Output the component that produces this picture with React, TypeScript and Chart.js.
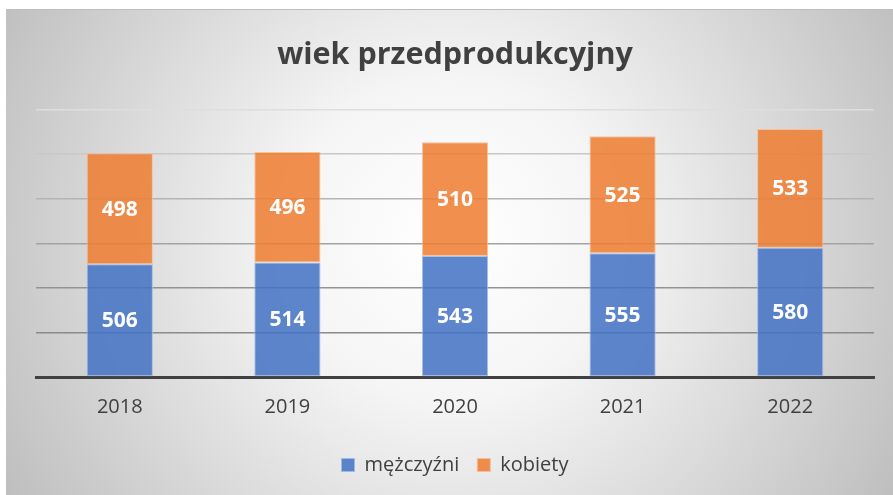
import React, { useEffect, useRef } from "react";
import { Chart, registerables } from "chart.js";

Chart.register(...registerables);

const categories = ["2018", "2019", "2020", "2021", "2022"];
const men = [506, 514, 543, 555, 580];
const women = [498, 496, 510, 525, 533];
const seriesNames = ["mężczyźni", "kobiety"];
const titleText = "wiek przedprodukcyjny";

const gridColors: Record<number, string> = {
  0: "rgba(0,0,0,0)",
  200: "#8a8a8a",
  400: "#939393",
  600: "#a3a3a3",
  800: "#b4b4b4",
  1000: "#c8c8c8",
  1200: "#dedede",
};

const bgPlugin = {
  id: "bgGradient",
  beforeDraw(chart: any) {
    const { ctx, width, height } = chart;
    ctx.save();
    ctx.fillStyle = "#ffffff";
    ctx.fillRect(0, 0, width, height);
    const g = ctx.createRadialGradient(450, 240, 0, 450, 240, 540);
    g.addColorStop(0, "#ffffff");
    g.addColorStop(0.3, "#f5f5f5");
    g.addColorStop(1, "#bababa");
    ctx.fillStyle = g;
    ctx.fillRect(6, 9, width - 6, height - 9);
    ctx.fillStyle = "#bdbdbd";
    ctx.fillRect(6, 9, width - 6, 1);
    ctx.restore();
  },
};

const labelPlugin = {
  id: "segLabels",
  afterDatasetsDraw(chart: any) {
    const { ctx } = chart;
    ctx.save();
    ctx.fillStyle = "#ffffff";
    ctx.font = "bold 21px 'Open Sans'";
    ctx.textAlign = "center";
    ctx.textBaseline = "middle";
    chart.data.datasets.forEach((ds: any, i: number) => {
      const meta = chart.getDatasetMeta(i);
      meta.data.forEach((el: any, j: number) => {
        const y = (el.y + el.base) / 2;
        ctx.fillText(String(ds.data[j]), el.x, y + 1);
      });
    });
    ctx.restore();
  },
};

export default function App() {
  const ref = useRef<HTMLCanvasElement>(null);
  useEffect(() => {
    if (!ref.current) return;
    const chart = new Chart(ref.current, {
      type: "bar",
      data: {
        labels: categories,
        datasets: [
          {
            label: seriesNames[0],
            data: men,
            backgroundColor: "rgba(68,114,196,0.86)",
            borderColor: "rgba(160,185,230,0.9)",
            borderWidth: 1,
            borderSkipped: false,
            barPercentage: 0.395,
            categoryPercentage: 1,
          },
          {
            label: seriesNames[1],
            data: women,
            backgroundColor: "rgba(237,125,49,0.86)",
            borderColor: "rgba(248,190,150,0.9)",
            borderWidth: 1,
            borderSkipped: false,
            barPercentage: 0.395,
            categoryPercentage: 1,
          },
        ],
      },
      plugins: [bgPlugin, labelPlugin],
      options: {
        responsive: false,
        animation: false,
        devicePixelRatio: 1,
        layout: { padding: { left: 36, right: 19, top: 0, bottom: 10 } },
        plugins: {
          tooltip: { enabled: false },
          title: {
            display: true,
            text: titleText,
            color: "#404040",
            font: { family: "'Open Sans'", size: 30.5, weight: "bold" },
            padding: { top: 37, bottom: 36 },
          },
          legend: {
            position: "bottom",
            labels: {
              boxWidth: 13,
              boxHeight: 13,
              color: "#404040",
              padding: 18,
              font: { family: "'Open Sans'", size: 20 },
            },
          },
        },
        scales: {
          x: {
            stacked: true,
            z: 1,
            grid: { display: false, drawTicks: false },
            border: { display: true, color: "#404040", width: 3 },
            ticks: {
              color: "#404040",
              padding: 18,
              font: { family: "'Open Sans'", size: 20 },
            },
          },
          y: {
            stacked: true,
            min: 0,
            max: 1200,
            ticks: { display: false, stepSize: 200 },
            border: { display: false },
            grid: {
              drawTicks: false,
              lineWidth: 1.5,
              color: (c: any) => gridColors[c.tick?.value] ?? "#aaaaaa",
            },
          },
        },
      },
    });
    return () => chart.destroy();
  }, []);
  return (
    <div style={{ position: "absolute", left: 0, top: 0, width: 893, height: 495 }}>
      <canvas ref={ref} width={893} height={495} style={{ display: "block" }} />
    </div>
  );
}
